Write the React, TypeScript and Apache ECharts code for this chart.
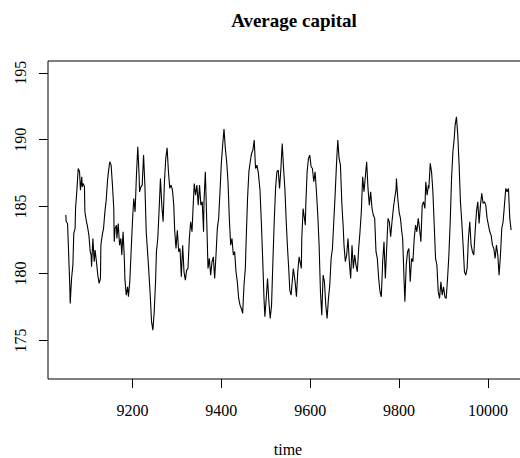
import React, { useEffect, useRef } from "react";
import * as echarts from "echarts";

const TITLE = "Average capital";
const X_NAME = "time";
const X_TICKS = [9200, 9400, 9600, 9800, 10000];
const Y_TICKS = [175, 180, 185, 190, 195];

const TIME = [
  9050, 9051, 9054, 9059, 9060, 9063, 9066, 9068, 9071, 9072, 9075, 9078, 9081, 9083, 9086, 9087, 9089, 9092, 9093, 9096,
  9099, 9102, 9105, 9107, 9108, 9111, 9114, 9116, 9119, 9122, 9125, 9128, 9129, 9132, 9135, 9138, 9141, 9144, 9146, 9149,
  9152, 9155, 9158, 9159, 9161, 9164, 9165, 9168, 9171, 9174, 9176, 9179, 9182, 9183, 9186, 9189, 9191, 9194, 9197, 9200,
  9203, 9206, 9209, 9212, 9215, 9216, 9219, 9222, 9225, 9228, 9231, 9236, 9240, 9243, 9246, 9249, 9252, 9254, 9257, 9260,
  9263, 9266, 9269, 9272, 9275, 9278, 9281, 9284, 9287, 9290, 9293,
  9295, 9298, 9301, 9304, 9307, 9310, 9313, 9316, 9319, 9322, 9325, 9328, 9331, 9334, 9336, 9339, 9342, 9345, 9348, 9351,
  9354, 9357, 9360, 9361, 9364, 9367, 9370, 9373, 9376, 9379, 9382, 9385, 9388, 9391, 9394, 9397, 9400, 9403, 9406, 9409,
  9412, 9415, 9418, 9421, 9424, 9427, 9430, 9433, 9436, 9439, 9442, 9445, 9448, 9451, 9454, 9456, 9459, 9462, 9465, 9468,
  9471, 9474, 9477, 9480, 9483, 9487, 9490, 9493, 9496, 9498, 9501, 9504, 9507, 9510, 9513, 9516, 9519, 9522, 9525, 9528,
  9531, 9534, 9537, 9540, 9543, 9546, 9549, 9552,
  9554, 9557, 9562, 9566, 9569, 9572, 9575, 9580, 9581, 9584, 9587, 9589, 9590, 9593, 9596, 9599, 9602, 9605, 9608, 9611,
  9614, 9617, 9620, 9623, 9626, 9629, 9632, 9635, 9638, 9641, 9644, 9647, 9650, 9653, 9656, 9659, 9662, 9665, 9668, 9671,
  9673, 9674, 9676, 9679, 9682, 9685, 9688, 9691, 9694, 9697, 9700, 9703, 9706, 9709, 9712, 9715, 9718, 9721, 9724, 9727,
  9730, 9733, 9736, 9739, 9742, 9745, 9748, 9751, 9754, 9757, 9760, 9763, 9766, 9769, 9772, 9775, 9778, 9781, 9784, 9787,
  9790, 9793, 9794, 9797, 9800, 9803, 9806, 9808, 9811,
  9813, 9816, 9819, 9822, 9825, 9828, 9831, 9834, 9837, 9840, 9843, 9846, 9849, 9852, 9855, 9858, 9860, 9863, 9866, 9867,
  9870, 9873, 9876, 9879, 9882, 9885, 9888, 9891, 9894, 9897, 9900, 9903, 9906, 9909, 9912, 9915, 9918, 9921, 9924, 9926,
  9929, 9932, 9935, 9938, 9941, 9944, 9947, 9950, 9953, 9956, 9959, 9962, 9965, 9968, 9971, 9974, 9977, 9980, 9983, 9986,
  9989, 9992, 9995, 9998, 10001, 10004, 10007, 10010, 10013, 10016, 10019, 10022, 10025, 10028, 10031, 10034, 10037, 10040, 10043, 10046,
  10049, 10052,
];

const CAPITAL = [
  184.37, 183.87, 183.74, 179.13, 177.76, 179.63, 180.63, 183.0, 183.37, 184.86, 186.23, 187.85, 187.6, 186.23, 187.23, 186.48, 186.73, 186.48, 184.61, 183.99,
  183.49, 182.87, 181.63, 181.38, 180.5, 182.62, 180.88, 181.75, 180.88, 179.88, 179.26, 179.63, 182.12, 182.87, 183.37, 184.61, 185.49, 186.98, 187.6, 188.35,
  188.1, 186.61, 184.86, 182.37, 183.37, 183.62, 182.62, 183.74, 182.12, 182.62, 181.38, 183.12, 180.88, 179.63, 178.39, 179.01, 178.26, 179.38, 181.63, 183.87,
  185.61, 184.61, 187.35, 189.47, 187.35, 186.11, 186.48, 186.61, 188.85, 186.61, 183.12, 180.63, 178.39, 176.39, 175.77, 177.14, 179.38, 181.63, 182.62, 184.74,
  187.1, 185.11, 183.87, 186.86, 188.6, 189.4, 187.6, 186.36, 186.61, 186.23, 185.11,
  183.24, 181.87, 183.24, 181.63, 181.87, 179.76, 182.12, 180.13, 179.51, 180.25, 180.38, 182.62, 183.87, 183.12, 184.61, 186.73, 185.86, 186.61, 185.11, 186.61,
  185.11, 185.36, 183.12, 185.36, 187.6, 184.12, 180.38, 181.13, 179.88, 180.88, 181.25, 179.63, 181.38, 183.37, 184.12, 186.11, 188.23, 189.6, 190.79, 189.35,
  188.35, 186.86, 184.12, 182.12, 182.62, 181.38, 181.63, 180.13, 179.38, 178.14, 177.64, 177.39, 177.02, 179.13, 180.38, 182.62, 185.61, 187.6, 188.35, 188.97,
  189.22, 189.97, 187.85, 188.1, 187.6, 186.23, 183.87, 181.13, 178.14, 176.77, 178.14, 179.63, 177.89, 176.64, 177.64, 180.88, 183.87, 186.36, 187.6, 187.73,
  186.36, 187.85, 189.72, 187.85, 186.36, 183.87, 181.87, 180.13,
  178.76, 178.39, 180.38, 179.38, 178.26, 180.13, 181.25, 180.38, 182.62, 184.86, 184.12, 183.62, 185.11, 187.6, 188.6, 188.85, 187.98, 187.85, 186.86, 187.6,
  186.11, 184.37, 182.12, 178.64, 176.89, 179.88, 179.38, 177.64, 176.64, 178.14, 179.13, 181.13, 181.87, 183.87, 185.86, 188.1, 189.97, 188.6, 188.1, 185.36,
  184.12, 183.62, 182.12, 180.88, 181.38, 182.62, 180.88, 179.63, 182.12, 180.38, 181.38, 180.63, 180.13, 181.87, 183.12, 184.61, 187.23, 186.11, 187.23, 188.35,
  186.36, 185.11, 186.11, 184.86, 184.37, 184.12, 181.63, 181.13, 179.63, 178.64, 178.26, 180.88, 182.37, 179.63, 181.87, 184.12, 183.87, 182.75, 183.87, 184.86,
  185.61, 186.23, 187.1, 185.61, 184.61, 184.12, 183.12, 182.62, 179.63,
  177.89, 180.63, 181.63, 181.87, 179.38, 181.13, 180.88, 182.62, 183.62, 183.12, 184.12, 183.37, 182.37, 185.11, 185.36, 184.86, 186.86, 185.86, 186.61, 186.36,
  188.23, 187.6, 186.11, 183.62, 181.13, 180.63, 178.64, 178.14, 179.38, 178.39, 179.01, 178.26, 178.14, 179.63, 181.38, 183.87, 187.1, 189.1, 190.09, 191.09,
  191.71, 190.34, 188.1, 185.36, 183.87, 182.12, 180.13, 179.88, 180.38, 182.62, 183.87, 182.12, 181.63, 181.38, 183.12, 184.61, 185.36, 183.74, 185.11, 185.99,
  185.24, 185.36, 185.11, 184.12, 183.62, 183.12, 182.87, 182.12, 181.87, 181.13, 182.12, 181.38, 179.88, 181.38, 183.37, 183.87, 185.11, 186.36, 186.11, 186.36,
  184.12, 183.24,
];

const FONT = "'Liberation Serif', 'Times New Roman', serif";

export default function App() {
  const ref = useRef<HTMLDivElement>(null);

  useEffect(() => {
    if (!ref.current) return;
    const chart = echarts.init(ref.current, null, { renderer: "svg" });
    const data = TIME.map((t, i) => [t, CAPITAL[i]]);
    chart.setOption({
      animation: false,
      backgroundColor: "#ffffff",
      textStyle: { fontFamily: FONT },
      title: {
        text: TITLE,
        left: 289,
        top: 6,
        textAlign: "center",
        textStyle: { fontFamily: FONT, fontSize: 19, fontWeight: "bold", color: "#000" },
      },
      grid: {
        left: 48,
        top: 61,
        width: 480,
        height: 318,
        show: true,
        borderColor: "#000",
        borderWidth: 1,
        outerBoundsMode: "none",
        containLabel: false,
      },
      xAxis: {
        type: "value",
        min: 9010,
        max: 10090,
        name: X_NAME,
        nameLocation: "middle",
        nameGap: 62,
        nameTextStyle: { fontFamily: FONT, fontSize: 16, color: "#000" },
        axisLine: { show: false },
        splitLine: { show: false },
        axisTick: { show: true, length: 9, customValues: X_TICKS, lineStyle: { color: "#000" } },
        axisLabel: {
          customValues: X_TICKS,
          formatter: (v: number) => String(v),
          margin: 23,
          fontFamily: FONT,
          fontSize: 16,
          color: "#000",
        },
      },
      yAxis: {
        type: "value",
        min: 172.12,
        max: 195.88,
        axisLine: { show: false },
        splitLine: { show: false },
        axisTick: { show: true, length: 9, customValues: Y_TICKS, lineStyle: { color: "#000" } },
        axisLabel: {
          customValues: Y_TICKS,
          formatter: (v: number) => String(v),
          rotate: 90,
          margin: 20,
          fontFamily: FONT,
          fontSize: 16,
          color: "#000",
        },
      },
      series: [
        {
          type: "line",
          data,
          showSymbol: false,
          symbol: "none",
          lineStyle: { color: "#000", width: 1.1 },
          clip: true,
        },
      ],
    });
    return () => chart.dispose();
  }, []);

  return (
    <div
      ref={ref}
      style={{ position: "fixed", left: 0, top: 0, width: 520, height: 458, overflow: "hidden", background: "#fff" }}
    />
  );
}
